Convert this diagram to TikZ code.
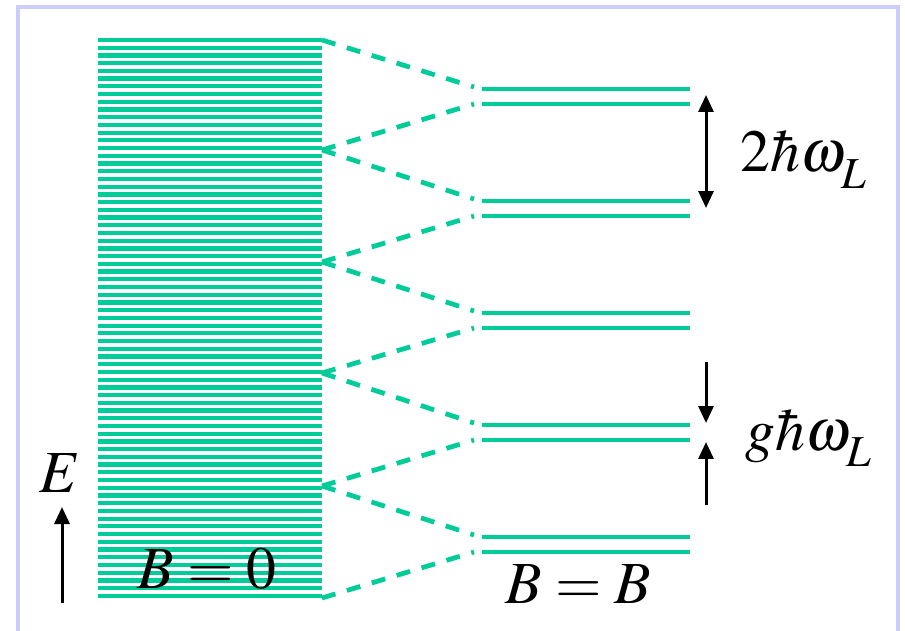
\documentclass[tikz,border=0pt]{standalone}
\usepackage{mathptmx}
\usetikzlibrary{arrows.meta}
\definecolor{levelgreen}{RGB}{0,204,153}
\definecolor{framelav}{RGB}{204,204,255}

\begin{document}
\begin{tikzpicture}[x=0.02cm,y=-0.02cm,
  >={Triangle[width=0.3cm,length=0.34cm]},
  level/.style={levelgreen,line width=0.085cm},
  split/.style={levelgreen,line width=0.095cm,dash pattern=on 0.28cm off 0.24cm},
  gap/.style={black,line width=0.06cm},
  lbl/.style={inner sep=0pt,font=\fontsize{34}{40}\selectfont}]
\useasboundingbox (0,0) rectangle (905,631);
\draw[framelav,line width=0.08cm] (18,631) -- (18,7) -- (898,7) -- (898,631);

% zero field: dense band
\foreach \k in {0,...,72}
  \draw[levelgreen,line width=0.085cm] (98,{40+\k*7.72}) -- (322,{40+\k*7.72});

\coordinate (band0) at (322,40);
\coordinate (band1) at (322,150);
\coordinate (band2) at (322,262);
\coordinate (band3) at (322,373);
\coordinate (band4) at (322,486);
\coordinate (band5) at (322,598);

% field on: Landau levels
\foreach \i in {0,...,4} {
  \coordinate (up\i) at (482,{89+\i*112});
  \coordinate (dn\i) at (482,{104+\i*112});
  \coordinate (tipu\i) at (474,{87+\i*112});
  \coordinate (tipd\i) at (474,{104+\i*112});
  \draw[level] (up\i) -- ++(208,0);
  \draw[level] (dn\i) -- ++(208,0);
}
\foreach \i [evaluate=\i as \j using int(\i+1)] in {0,...,4} {
  \draw[split] (band\i) -- (tipu\i);
  \draw[split] (band\j) -- (tipd\i);
}

\node[lbl,anchor=base] (energy) at (60,492) {$E$};
\coordinate (efoot) at (62,603);
\coordinate (ehead) at (62,507);
\draw[gap,->] (efoot) -- (ehead);

\node[lbl,anchor=base west] (bzero) at (137,588) {$B=0$};
\node[lbl,anchor=base west] (bfield) at (505,603) {$B=B$};

\coordinate (wtop) at (706,95);
\coordinate (wbot) at (706,208);
\draw[gap,<->] (wtop) -- (wbot);
\node[lbl,anchor=base west] (wide) at (740,172) {$2\hbar\omega_{\raisebox{-0.12em}{$\scriptstyle L$}}$};

\coordinate (gtop) at (706,362);
\coordinate (gtopend) at (706,423);
\coordinate (gbot) at (706,505);
\coordinate (gbotend) at (706,442);
\draw[gap,->] (gtop) -- (gtopend);
\draw[gap,->] (gbot) -- (gbotend);
\node[lbl,anchor=base west] (narrow) at (745,450) {$g\hbar\omega_{\raisebox{-0.12em}{$\scriptstyle L$}}$};
\end{tikzpicture}
\end{document}
